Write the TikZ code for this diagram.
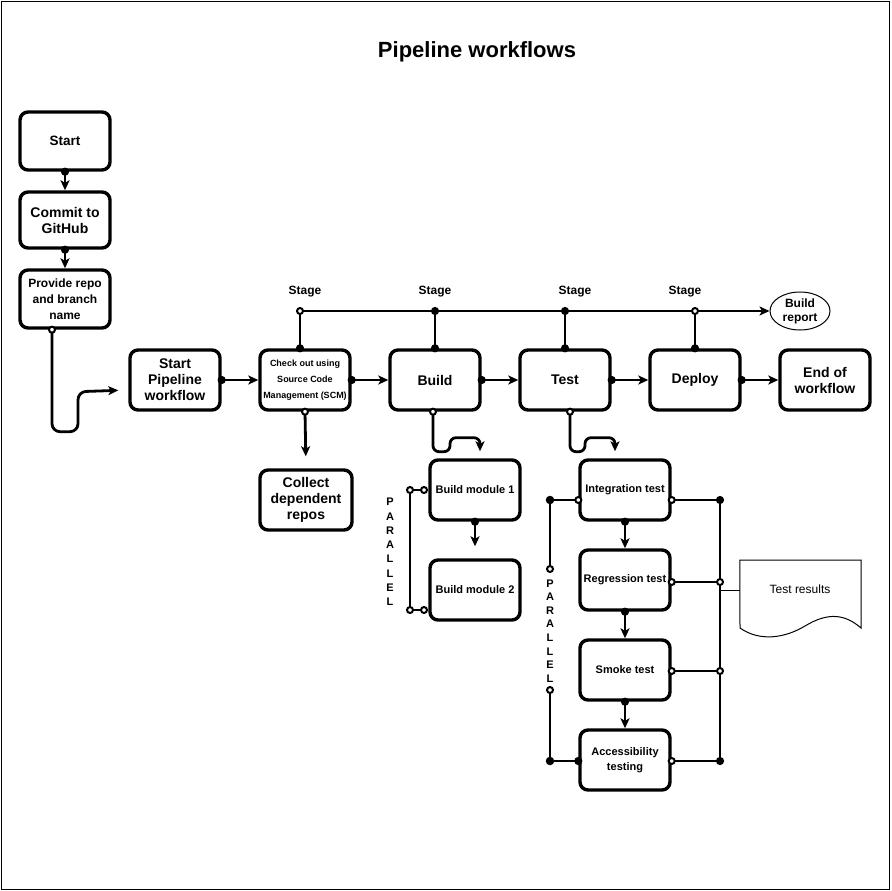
\documentclass[tikz,border=0pt]{standalone}
\usepackage{fontspec}
\setmainfont{Liberation Sans}
\usetikzlibrary{arrows.meta,calc,shapes.geometric,positioning}

\tikzset{
  ball/.tip={Circle[length=8pt]},
  hoop/.tip={Circle[length=8pt,open,fill=white,line width=2pt]},
  head/.tip={Stealth[length=10pt,width=9pt,inset=2.5pt]},
  fnt/.style={font=\bfseries\fontsize{#1}{16}\selectfont},
  box/.style={draw, line width=3.4pt, rounded corners=8pt, minimum width=90pt,
    minimum height=60pt, align=center, inner sep=2pt, fnt=14},
  link/.style={line width=2.8pt},
  balltohead/.style={link, arrows={ball-head}, shorten <=-4pt},
  hooptohead/.style={link, arrows={hoop-head}, shorten <=-4pt},
  ballball/.style={link, arrows={ball-ball}, shorten <=-4pt, shorten >=-4pt},
  hoophoop/.style={link, arrows={hoop-hoop}, shorten <=-4pt, shorten >=-4pt},
  hoopball/.style={link, arrows={hoop-ball}, shorten <=-4pt, shorten >=-4pt},
  ballhoop/.style={link, arrows={ball-hoop}, shorten <=-4pt, shorten >=-4pt},
  stagelbl/.style={fnt=12},
  vtext/.style={align=center, font=\bfseries\fontsize{11}{#1}\selectfont, inner sep=0pt}
}

\begin{document}
\begin{tikzpicture}[x=1pt,y=-1pt]
  \useasboundingbox (0,0) rectangle (891,891);
  \draw[line width=0.9pt] (1,1) rectangle (889,889);
  % title
  \node[font=\bfseries\fontsize{22}{26}\selectfont] (title) at (477,52) {Pipeline workflows};
  % left column
  \node[box, minimum height=58pt, fnt=13.5] (start) at (65,141) {Start};
  \node[box, minimum height=56pt] (commit) at (65,220) {Commit to\\GitHub};
  \node[box, minimum height=58pt, fnt=12] (prov) at (65,299) {Provide repo\\and branch\\name};
  % main row
  \node[box] (spw) at (175,380) {Start\\Pipeline\\workflow};
  \node[box, fnt=9] (scm) at (305,380) {Check out using\\Source Code\\Management (SCM)};
  \node[box] (build) at (435,380) {Build};
  \node[box] (test) at (565,380) {Test};
  \node[box] (deploy) at (695,380) {Deploy};
  \node[box] (endw) at (825,380) {End of\\workflow};
  \node[box, minimum width=92pt] (collect) at (306,500) {Collect\\dependent\\repos};
  % build modules
  \node[box, fnt=11] (bm1) at (475,490) {Build module 1};
  \node[box, fnt=11] (bm2) at (475,590) {Build module 2};
  % tests
  \node[box, fnt=11] (integ) at (625,490) {Integration test};
  \node[box, fnt=11] (regr) at (625,580) {Regression test};
  \node[box, fnt=11] (smoke) at (625,670) {Smoke test};
  \node[box, font=\bfseries\fontsize{11}{15}\selectfont] (acc) at (625,760) {Accessibility\\testing};
  % report and results
  \node[ellipse, draw, line width=1pt, minimum width=60pt, minimum height=38pt, inner sep=0pt,
    align=center, font=\bfseries\fontsize{12}{14}\selectfont] (report) at (800,311) {Build\\report};
  \node[minimum width=121pt, minimum height=70pt, font=\fontsize{12}{14}\selectfont] (results) at (800.5,595) {};
  \node[font=\fontsize{12}{14}\selectfont] (restext) at (800,589) {Test results};
  \draw[line width=1pt] (results.north west |- 0,560) -- (861,560) -- (861,628)
    .. controls (845,614) and (828,612) .. (805,626)
    .. controls (785,638) and (760,642) .. (740,628) -- cycle;
  % stage labels
  \node[stagelbl] (stg1) at (305,292) {Stage};
  \node[stagelbl] (stg2) at (435,292) {Stage};
  \node[stagelbl] (stg3) at (575,292) {Stage};
  \node[stagelbl] (stg4) at (685,292) {Stage};
  % bus coordinates
  \coordinate (s1) at (300,311);
  \coordinate (s2) at (435,311);
  \coordinate (s3) at (565,311);
  \coordinate (s4) at (695,311);
  % left column edges
  \draw[balltohead] (start.south) -- (commit.north);
  \draw[balltohead] (commit.south) -- (prov.north);
  \draw[hooptohead, rounded corners=8pt, shorten >=10pt] ($(prov.south)+(-13,0)$) -- ++(0,102)
    -- ++(26,0) -- ++(0,-40) -- ($(spw.west)+(0,10)$);
  % main row edges
  \draw[balltohead] (spw.east) -- (scm.west);
  \draw[balltohead] (scm.east) -- (build.west);
  \draw[balltohead] (build.east) -- (test.west);
  \draw[balltohead] (test.east) -- (deploy.west);
  \draw[balltohead] (deploy.east) -- (endw.west);
  % stage bus
  \draw[link, -{head}] (s1) -- (report.west);
  \draw[hoopball] (s1) -- (s1 |- scm.north);
  \draw[ballball] (s2) -- (build.north);
  \draw[ballball] (s3) -- (test.north);
  \draw[hoopball] (s4) -- (deploy.north);
  % branches down
  \draw[hooptohead, shorten >=12pt] (scm.south) -- (collect.north);
  \draw[hooptohead, rounded corners=6pt, shorten >=7pt] ($(build.south)+(-2,0)$) -- ++(0,40)
    -- ++(17,0) -- ++(0,-14) -- ++(30,0) -- ($(bm1.north)+(5,0)$);
  \draw[hooptohead, rounded corners=6pt, shorten >=7pt] ($(test.south)+(5,0)$) -- ++(0,40)
    -- ++(15,0) -- ++(0,-14) -- ++(30,0) -- ($(integ.north)+(-10,0)$);
  \draw[balltohead, shorten >=12pt] (bm1.south) -- (bm2.north);
  \draw[balltohead] (integ.south) -- (regr.north);
  \draw[balltohead] (regr.south) -- (smoke.north);
  \draw[balltohead] (smoke.south) -- (acc.north);
  % build parallel bracket
  \coordinate (p1) at (410,490);
  \coordinate (p2) at (424,490);
  \coordinate (p3) at (410,610);
  \coordinate (p4) at (424,610);
  \draw[link] (p1) -- (p3);
  \draw[hoophoop] (p1) -- (p2);
  \draw[hoophoop] (p3) -- (p4);
  \node[vtext=14.3] (par1) at (390,552) {P\\A\\R\\A\\L\\L\\E\\L};
  % test parallel bracket (left)
  \coordinate (q1) at (550,500);
  \coordinate (q2) at (550,569);
  \coordinate (q3) at (550,690);
  \coordinate (q4) at (550,761);
  \draw[ballhoop] (q1) -- (q2);
  \draw[hoopball] (q3) -- (q4);
  \draw[ballhoop] (q1) -- (integ.west |- q1);
  \draw[ballball] (q4) -- (acc.west |- q4);
  \node[vtext=13.6] (par2) at (550,631) {P\\A\\R\\A\\L\\L\\E\\L};
  % test collector (right)
  \coordinate (r1) at (720,500);
  \coordinate (r2) at (720,582);
  \coordinate (r3) at (720,671);
  \coordinate (r4) at (720,761);
  \draw[link] (r1) -- (r4);
  \draw[line width=0.9pt] (720,590) -- (results.west |- 0,590);
  \draw[hoopball] (integ.east |- r1) -- (r1);
  \draw[hoophoop] (regr.east |- r2) -- (r2);
  \draw[hoophoop] (smoke.east |- r3) -- (r3);
  \draw[hoopball] (acc.east |- r4) -- (r4);
\end{tikzpicture}
\end{document}
